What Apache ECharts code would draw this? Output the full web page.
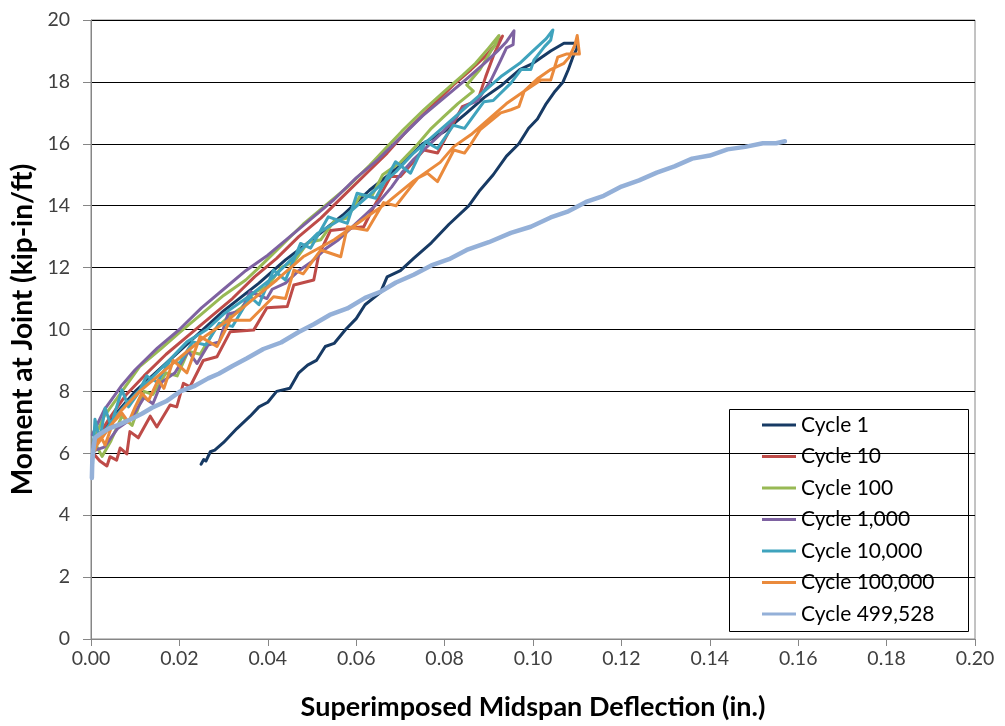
<!DOCTYPE html>
<html>
<head>
<meta charset="utf-8">
<script src="https://cdn.jsdelivr.net/npm/echarts@6/dist/echarts.min.js"></script>
<style>html,body{margin:0;padding:0;background:#fff;}#c{width:1005px;height:726px;}</style>
</head>
<body>
<div id="c"></div>
<script>
const seriesNames = ['Cycle 1','Cycle 10','Cycle 100','Cycle 1,000','Cycle 10,000','Cycle 100,000','Cycle 499,528'];
const seriesColors = ['#173a64','#be4b48','#98b954','#7e62a1','#3fa3bd','#ea8a3c','#94b0d8'];
const xTicks = [0,0.02,0.04,0.06,0.08,0.10,0.12,0.14,0.16,0.18,0.20];
const yTicks = [0,2,4,6,8,10,12,14,16,18,20];

const cycle1 = [
 [0.0249,5.65],[0.0255,5.8],[0.026,5.75],[0.027,6.05],[0.028,6.1],[0.030,6.35],[0.033,6.8],[0.036,7.2],[0.038,7.5],[0.040,7.65],
 [0.042,8.0],[0.045,8.1],[0.047,8.6],[0.049,8.85],[0.051,9.0],[0.053,9.45],[0.055,9.55],[0.0576,10.0],[0.060,10.35],[0.062,10.8],
 [0.0655,11.2],[0.067,11.7],[0.070,11.9],[0.073,12.3],[0.077,12.8],[0.081,13.4],[0.0855,14.0],[0.088,14.5],[0.091,15.0],[0.094,15.6],
 [0.0968,16.0],[0.099,16.5],[0.101,16.8],[0.103,17.3],[0.105,17.7],[0.1068,18.0],[0.108,18.4],[0.109,18.8],[0.110,19.1],
 [0.1095,19.25],[0.107,19.25],[0.104,19.0],[0.100,18.6],[0.097,18.4],[0.093,17.9],[0.089,17.5],[0.085,17.0],[0.080,16.4],[0.075,16.0],
 [0.070,15.3],[0.063,14.5],[0.057,13.7],[0.050,12.9],[0.044,12.25],[0.038,11.5],[0.030,10.6],[0.020,9.3],[0.010,8.0],[0.004,7.0],[0.0005,6.2]
];
const cycle10 = [
 [0.0005,6.0],[0.002,5.75],[0.0036,5.59],[0.0043,5.89],[0.0058,5.78],[0.0066,6.17],[0.0081,5.98],[0.0088,6.7],[0.0107,6.5],[0.0134,7.2],
 [0.0149,6.85],[0.0179,7.56],[0.0194,7.5],[0.0209,8.26],[0.0224,8.15],[0.0254,9.0],[0.0285,9.12],[0.0315,9.93],[0.0368,9.98],[0.0398,10.7],
 [0.0444,10.74],[0.0459,11.44],[0.0504,11.6],[0.0515,12.4],[0.0542,13.2],[0.0617,13.32],[0.064,13.97],[0.0678,14.94],[0.070,14.94],[0.0753,15.8],
 [0.0784,15.7],[0.081,16.4],[0.084,17.2],[0.0875,17.4],[0.0893,18.17],[0.0912,18.9],[0.0931,19.48],
 [0.0915,19.2],[0.089,18.8],[0.086,18.4],[0.082,17.9],[0.077,17.2],[0.072,16.5],[0.067,15.7],[0.062,15.0],[0.057,14.3],[0.052,13.6],
 [0.047,13.0],[0.042,12.3],[0.037,11.7],[0.032,11.0],[0.027,10.4],[0.022,9.8],[0.017,9.2],[0.012,8.5],[0.008,7.9],[0.004,7.1],[0.001,6.4]
];
const cycle100 = [
 [0.0005,6.4],[0.003,7.2],[0.006,7.8],[0.011,8.8],[0.016,9.4],[0.020,9.9],[0.025,10.5],[0.030,11.1],[0.035,11.6],[0.038,12.0],
 [0.043,12.7],[0.048,13.4],[0.053,14.0],[0.058,14.6],[0.063,15.3],[0.067,15.9],[0.0703,16.4],[0.0753,17.1],[0.080,17.7],[0.084,18.2],
 [0.087,18.6],[0.090,19.1],[0.0923,19.5],
 [0.0915,19.2],[0.0905,19.0],[0.088,18.4],[0.085,17.9],[0.0865,17.7],[0.083,17.3],[0.080,16.9],[0.077,16.5],[0.074,16.0],[0.070,15.4],
 [0.068,15.2],[0.066,15.0],[0.0635,14.3],[0.061,14.35],[0.058,13.6],[0.055,13.5],[0.052,12.9],[0.049,12.8],[0.046,12.2],[0.043,12.0],
 [0.040,11.4],[0.037,11.2],[0.034,10.7],[0.031,10.4],[0.028,10.0],[0.0247,9.2],[0.022,9.3],[0.0195,8.5],[0.017,8.6],[0.014,7.9],
 [0.012,8.0],[0.0093,6.9],[0.007,7.2],[0.0045,6.4],[0.0025,5.9],[0.001,6.3]
];
const cycle1000 = [
 [0.0003,6.6],[0.003,7.4],[0.007,8.2],[0.010,8.7],[0.015,9.4],[0.020,10.0],[0.025,10.7],[0.030,11.3],[0.035,11.9],[0.040,12.4],
 [0.045,13.0],[0.050,13.6],[0.055,14.2],[0.060,14.9],[0.065,15.5],[0.070,16.2],[0.075,16.9],[0.080,17.5],[0.085,18.1],[0.089,18.6],
 [0.092,19.0],[0.094,19.3],[0.0957,19.65],
 [0.0955,19.2],[0.094,19.1],[0.0927,18.7],[0.0905,18.06],[0.0875,17.4],[0.0845,17.2],[0.0821,16.77],[0.079,16.3],[0.076,15.9],[0.073,15.5],
 [0.0705,15.1],[0.068,14.6],[0.065,14.1],[0.062,13.7],[0.059,13.3],[0.056,12.9],[0.053,12.6],[0.050,12.2],[0.047,11.9],[0.044,11.5],
 [0.041,11.3],[0.0398,11.0],[0.036,11.22],[0.034,10.6],[0.031,10.5],[0.029,9.6],[0.0265,9.5],[0.024,8.9],[0.022,9.3],[0.019,8.6],
 [0.016,8.3],[0.014,7.6],[0.012,7.8],[0.009,7.1],[0.006,6.8],[0.003,6.2],[0.001,6.1]
];
const cycle10000 = [
 [0.0002,5.25],[0.0009,7.1],[0.002,6.43],[0.0032,7.46],[0.0045,6.9],[0.007,8.05],[0.0085,7.5],[0.0105,7.9],[0.0126,8.5],[0.015,8.3],
 [0.0179,9.0],[0.020,8.9],[0.023,9.6],[0.026,9.5],[0.029,10.2],[0.032,10.1],[0.036,11.06],[0.038,10.8],[0.0413,11.92],[0.044,11.6],
 [0.0474,12.78],[0.0497,12.63],[0.0537,13.64],[0.058,13.43],[0.0602,14.4],[0.0644,14.24],[0.0689,15.42],[0.0723,15.05],[0.0757,16.07],[0.0784,15.85],
 [0.082,16.6],[0.0845,16.5],[0.0889,17.36],[0.091,17.4],[0.095,17.96],[0.0973,18.4],[0.0995,18.4],[0.1002,18.7],[0.1026,19.14],[0.104,19.35],
 [0.1045,19.68],
 [0.103,19.4],[0.100,19.0],[0.097,18.6],[0.093,18.2],[0.089,17.7],[0.085,17.2],[0.081,16.7],[0.077,16.2],[0.073,15.7],[0.069,15.1],
 [0.065,14.6],[0.061,14.1],[0.057,13.6],[0.0512,13.1],[0.047,12.5],[0.0413,11.7],[0.036,11.1],[0.030,10.5],[0.0262,10.0],[0.0217,9.6],
 [0.017,8.9],[0.012,8.2],[0.008,7.6],[0.005,7.1],[0.002,6.5],[0.0005,6.0]
];
const cycle100000 = [
 [0.0009,6.1],[0.002,6.6],[0.0032,6.27],[0.005,7.0],[0.007,7.3],[0.0085,7.0],[0.010,7.5],[0.0115,7.94],[0.013,7.7],[0.0152,8.37],
 [0.0165,8.1],[0.0186,9.0],[0.0217,8.6],[0.0247,9.77],[0.0285,9.45],[0.0315,10.3],[0.036,10.3],[0.0413,11.06],[0.044,11.0],[0.0459,11.92],
 [0.048,11.8],[0.052,12.57],[0.0565,12.35],[0.058,13.32],[0.0625,13.21],[0.0662,14.1],[0.069,14.0],[0.0723,14.6],[0.074,14.9],[0.0761,15.05],
 [0.0784,14.78],[0.0821,15.8],[0.0845,15.7],[0.086,16.0],[0.088,16.45],[0.0927,17.0],[0.095,17.1],[0.0968,17.2],[0.098,17.7],[0.1018,18.06],
 [0.104,18.06],[0.1056,18.8],[0.1075,18.9],[0.1105,18.9],[0.110,19.5],
 [0.1095,19.2],[0.1082,18.8],[0.107,18.6],[0.104,18.4],[0.101,18.1],[0.098,17.7],[0.094,17.3],[0.090,16.8],[0.086,16.3],[0.082,15.9],
 [0.079,15.4],[0.073,14.8],[0.067,14.1],[0.061,13.5],[0.055,12.9],[0.048,12.35],[0.042,11.6],[0.036,10.9],[0.031,10.3],[0.026,9.8],
 [0.021,9.2],[0.016,8.6],[0.011,8.0],[0.007,7.4],[0.003,6.6],[0.001,6.2]
];
const cycle499528 = [
 [0.0002,5.2],[0.0003,5.8],[0.0006,6.2],[0.0009,6.5],[0.002,6.62],[0.004,6.8],[0.0062,6.92],[0.009,7.1],[0.0115,7.28],[0.0138,7.47],
 [0.017,7.68],[0.0202,8.0],[0.0235,8.18],[0.0265,8.42],[0.0289,8.57],[0.032,8.82],[0.0353,9.07],[0.039,9.37],[0.043,9.58],[0.047,9.92],
 [0.0504,10.17],[0.054,10.47],[0.058,10.68],[0.062,11.02],[0.0655,11.22],[0.069,11.52],[0.073,11.77],[0.077,12.07],[0.081,12.27],[0.085,12.57],
 [0.090,12.82],[0.095,13.12],[0.0995,13.32],[0.104,13.62],[0.108,13.82],[0.112,14.12],[0.116,14.32],[0.120,14.62],[0.124,14.82],[0.128,15.07],
 [0.132,15.27],[0.136,15.52],[0.140,15.62],[0.144,15.82],[0.148,15.9],[0.152,16.02],[0.155,16.02],[0.157,16.08]
];
const cycleData = [cycle1, cycle10, cycle100, cycle1000, cycle10000, cycle100000, cycle499528];

const chart = echarts.init(document.getElementById('c'), null, {renderer: 'canvas'});
const FONT = 'Lato, "Open Sans", sans-serif';

const series = cycleData.map((d, i) => ({
  name: seriesNames[i],
  type: 'line',
  data: d,
  symbol: 'none',
  showSymbol: false,
  smooth: false,
  lineStyle: {color: seriesColors[i], width: i === 6 ? 4.5 : 3, join: 'round', cap: 'round'},
  itemStyle: {color: seriesColors[i]},
  z: 2 + i
}));

chart.setOption({
  animation: false,
  backgroundColor: '#fff',
  grid: {left: 91, right: 30, top: 20, bottom: 87, show: true, borderColor: '#868686', borderWidth: 1, backgroundColor: 'transparent'},
  xAxis: {
    type: 'value', min: 0, max: 0.2, interval: 0.02,
    name: 'Superimposed Midspan Deflection (in.)', nameLocation: 'middle', nameGap: 55,
    nameTextStyle: {fontFamily: FONT, fontSize: 27, fontWeight: 'bold', color: '#000'},
    axisLine: {show: true, lineStyle: {color: '#868686', width: 1}},
    axisTick: {show: true, inside: false, length: 7, lineStyle: {color: '#868686'}},
    axisLabel: {fontFamily: FONT, fontSize: 19.5, color: '#404040', margin: 10,
      formatter: v => xTicks.find(t => Math.abs(t - v) < 1e-9) !== undefined ? v.toFixed(2) : ''},
    splitLine: {show: false}
  },
  yAxis: {
    type: 'value', min: 0, max: 20, interval: 2,
    name: 'Moment at Joint (kip-in/ft)', nameLocation: 'middle', nameGap: 52,
    nameTextStyle: {fontFamily: FONT, fontSize: 28, fontWeight: 'bold', color: '#000'},
    axisLine: {show: true, lineStyle: {color: '#868686', width: 1}},
    axisTick: {show: true, inside: false, length: 8, lineStyle: {color: '#868686'}},
    axisLabel: {fontFamily: FONT, fontSize: 19.5, color: '#404040', margin: 21,
      formatter: v => yTicks.indexOf(v) >= 0 ? String(v) : ''},
    splitLine: {show: true, lineStyle: {color: '#000', width: 1}}
  },
  legend: {
    orient: 'vertical', left: 762, top: 414, padding: 0,
    itemWidth: 34, itemHeight: 3, itemGap: 9.5, itemTextGap: 2, icon: 'rect',
    textStyle: {fontFamily: FONT, fontSize: 21, color: '#000', lineHeight: 22},
    data: seriesNames
  },
  graphic: [{
    type: 'rect', z: 0, zlevel: 0,
    shape: {x: 729.5, y: 409.5, width: 239, height: 222},
    style: {fill: '#fff', stroke: '#000', lineWidth: 1}
  }],
  series: series
});
</script>
</body>
</html>
